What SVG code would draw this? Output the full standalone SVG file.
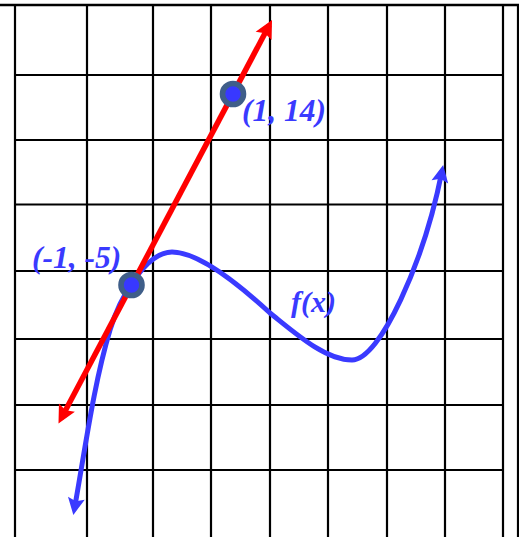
<svg xmlns="http://www.w3.org/2000/svg" width="519" height="537" viewBox="0 0 519 537">
<style>
.grid line{stroke:#000;stroke-width:2.2}
.curve{fill:none;stroke:#3a3aff;stroke-width:5}
.tangent{fill:none;stroke:#ff0000;stroke-width:5.5}
.pt{fill:#3838ff;stroke:#3f5e89;stroke-width:5.6}
.lbl{font-family:"Liberation Serif","Times New Roman",serif;font-weight:bold;font-style:italic;fill:#3a3aff}
</style>
<defs>
<marker id="ab" markerUnits="userSpaceOnUse" orient="auto-start-reverse" refX="0" refY="0" markerWidth="20" markerHeight="20" overflow="visible">
<path d="M6,0 L-11,-8.5 L-8,0 L-11,8.5 Z" fill="#3a3aff"/>
</marker>
<marker id="ar" markerUnits="userSpaceOnUse" orient="auto-start-reverse" refX="0" refY="0" markerWidth="20" markerHeight="20" overflow="visible">
<path d="M6,0 L-12,-9 L-9,0 L-12,9 Z" fill="#ff0000"/>
</marker>
</defs>
<rect width="519" height="537" fill="#fff"/>
<g id="grid" class="grid">
<line x1="0" y1="5" x2="519" y2="5" style="stroke-width:2.6"/>
<line x1="15" y1="5" x2="15" y2="537"/>
<line x1="87" y1="5" x2="87" y2="537"/>
<line x1="153" y1="5" x2="153" y2="537"/>
<line x1="211" y1="5" x2="211" y2="537"/>
<line x1="270" y1="5" x2="270" y2="537"/>
<line x1="328" y1="5" x2="328" y2="537"/>
<line x1="387" y1="5" x2="387" y2="537"/>
<line x1="445" y1="5" x2="445" y2="537"/>
<line x1="503" y1="5" x2="503" y2="537"/>
<line x1="518" y1="5" x2="518" y2="537"/>
<line x1="15" y1="75" x2="503" y2="75"/>
<line x1="15" y1="140" x2="503" y2="140"/>
<line x1="15" y1="204.5" x2="503" y2="204.5"/>
<line x1="15" y1="271" x2="503" y2="271"/>
<line x1="15" y1="339" x2="503" y2="339"/>
<line x1="15" y1="405" x2="503" y2="405"/>
<line x1="15" y1="470" x2="503" y2="470"/>
</g>
<g id="connectors">
<path id="fx-curve" class="curve" d="M74.4,509 C85,450 93.5,385 110,330 C119,300 145,252 172,252 C200,252 245,290 270,313 C295,333 325,360 352,360 C380,360 424,262 442,171" marker-start="url(#ab)" marker-end="url(#ab)"/>
<path id="tangent-line" class="tangent" d="M61.3,418.2 L269.2,25.3" marker-start="url(#ar)" marker-end="url(#ar)"/>
</g>
<g id="point-1-14">
<circle class="pt" cx="233" cy="94" r="10.5"/>
<text class="lbl" x="242" y="121" font-size="31.5">(1, 14)</text>
</g>
<g id="point-m1-m5">
<circle class="pt" cx="131.5" cy="285" r="10.5"/>
<text class="lbl" x="32" y="268" font-size="31.5">(-1, -5)</text>
</g>
<g id="label-fx">
<text class="lbl" x="291" y="312" font-size="30">f(x)</text>
</g>
</svg>
